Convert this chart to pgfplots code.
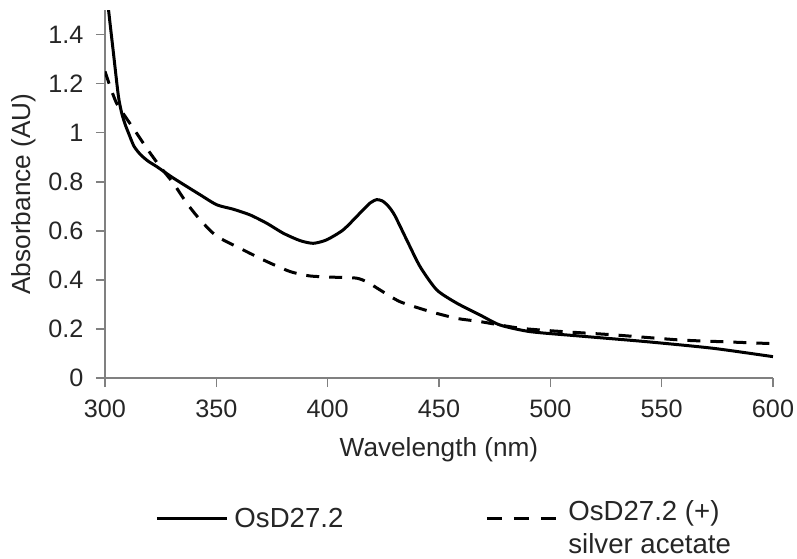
\documentclass[border=0pt]{standalone}
\usepackage{fontspec}
\setmainfont{Liberation Sans}
\usepackage{pgfplots}
\pgfplotsset{compat=1.18}
\begin{document}
\begin{tikzpicture}
\begin{axis}[
  name=ax,
  at={(0,0)}, anchor=south west,
  scale only axis,
  width=334pt, height=184pt,
  xmin=300, xmax=600, ymin=0, ymax=1.5,
  xtick={300,350,...,600},
  ytick={0,0.2,...,1.4},
  yticklabels={0,0.2,0.4,0.6,0.8,1,1.2,1.4},
  axis lines*=left,
  axis line style={draw=gray, line width=0.8pt, -},
  tick style={draw=gray, line width=0.8pt},
  tick align=outside,
  major tick length=4.5pt,
  /pgf/number format/assume math mode=true,
  tick label style={font=\fontsize{12.6}{14}\selectfont, text=black!85},
  xticklabel style={yshift=-3pt},
  yticklabel style={xshift=-2.8pt},
  label style={font=\fontsize{13.1}{15}\selectfont, text=black!85},
  xlabel={Wavelength (nm)},
  ylabel={Absorbance (AU)},
  xlabel style={at={(axis description cs:0.5,-0.196)}, anchor=center},
  ylabel style={at={(axis description cs:-0.121,0.5)}, anchor=center},
  legend columns=2,
  legend style={at={(axis description cs:0.075,-0.383)}, anchor=west, draw=none, inner sep=0pt,
    font=\fontsize{13.8}{16.5}\selectfont, text=black!85,
    nodes={inner sep=0pt}},
  legend cell align=left,
]
\addplot[black, line width=1.5pt, smooth, tension=0.4,
  legend image code/.code={\draw[black, line width=1.5pt] (0pt,0pt) -- (35pt,0pt);}] coordinates {
(300,1.65) (301.6,1.50) (303.6,1.34) (306,1.15) (307.5,1.08) (309,1.035) (310.5,1.0)
(313,0.945) (316,0.91) (319.5,0.883) (323.2,0.862) (330.7,0.815) (342.7,0.747) (350.2,0.706)
(357.6,0.688) (365.1,0.665) (372.6,0.631) (380.1,0.59) (387.6,0.56)
(393.5,0.549) (399.5,0.563) (407,0.604) (414.5,0.672) (419,0.713)
(422,0.727) (424.5,0.722) (427,0.703) (430,0.665) (435.5,0.563)
(441.5,0.454) (449,0.359) (458,0.305) (468.4,0.257) (477.4,0.216)
(490.9,0.189) (513.3,0.171) (543.3,0.148) (573.2,0.121) (600,0.087)
};
\addlegendentry{\hspace{3pt}OsD27.2\hspace*{71pt}\mbox{}}
\addplot[black, line width=1.5pt, dash pattern=on 6.5pt off 5pt, smooth, tension=0.4,
  legend image code/.code={\draw[black, line width=1.5pt, dash pattern=on 7.5pt off 6pt] (0pt,0pt) -- (35pt,0pt);}] coordinates {
(300,1.25) (302.2,1.19) (305.2,1.12) (309,1.067) (314.2,0.998) (318.7,0.937)
(324.7,0.862) (330.7,0.794) (336.7,0.713) (342.7,0.645) (350.2,0.578)
(362.1,0.522) (372.6,0.475) (383.1,0.434) (392,0.416) (402.5,0.411)
(413,0.407) (418,0.39) (423.5,0.359) (432.5,0.311) (446,0.271)
(458,0.243) (468.4,0.23) (486.4,0.203) (505.8,0.189) (528.3,0.176)
(558.3,0.155) (580,0.147) (600,0.14)
};
\addlegendentry{\hspace{5pt}\begin{tabular}{@{}l@{}}OsD27.2 (+)\\silver acetate\end{tabular}}
\end{axis}
\pgfresetboundingbox
\path[use as bounding box] ([xshift=-52.5pt,yshift=-90pt]ax.south west) rectangle ([xshift=12pt,yshift=5pt]ax.north east);
\end{tikzpicture}
\end{document}
